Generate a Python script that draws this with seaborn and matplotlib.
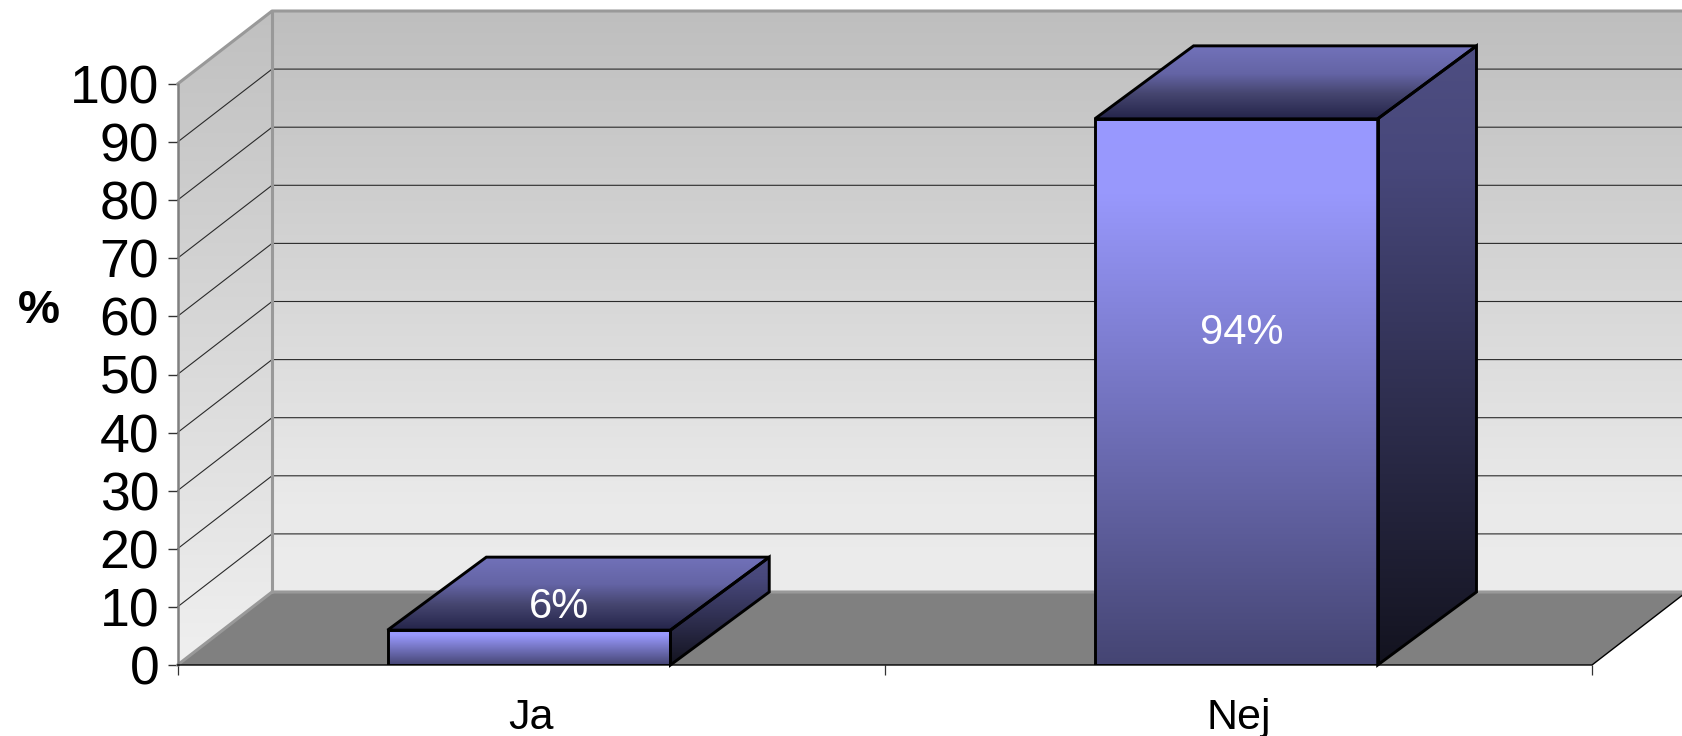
import numpy as np
import seaborn as sns
import matplotlib.pyplot as plt
from matplotlib.colors import LinearSegmentedColormap
from matplotlib.patches import Polygon

categories = ['Ja', 'Nej']
values = [6, 94]
value_labels = ['6%', '94%']
y_ticks = [0, 10, 20, 30, 40, 50, 60, 70, 80, 90, 100]

W, H = 1682, 736
# oblique depth of the fake 3D box, in data units
DX = 94.5 / 707
DY = 73 / 5.81
BAR_DX = DX + 0.006
BAR_SHIFT = -0.003

WALL_STOPS = [(0, '#BEBEBE'), (0.85, '#EAEAEA'), (1, '#ECECEC')]
SIDE_WALL_STOPS = ['#C0C0C0', '#F0F0F0']
FRONT_STOPS = [(0, '#9999FF'), (0.14, '#9898FC'), (1, '#454573')]
TOP_STOPS = [(0, '#7272BA'), (0.38, '#6464A5'), (0.65, '#464670'), (1, '#24244A')]
SIDE_STOPS = [(0, '#4E4E82'), (0.2, '#47477A'), (1, '#13131F')]


def shade_face(ax, verts, stops, zorder):
    cmap = LinearSegmentedColormap.from_list('face', stops)
    xs, ys = zip(*verts)
    im = ax.imshow(np.linspace(0, 1, 256)[:, None], cmap=cmap, aspect='auto', origin='upper',
                   extent=(min(xs), max(xs), min(ys), max(ys)), zorder=zorder)
    im.set_clip_box(ax.figure.bbox)
    im.set_clip_path(Polygon(verts, closed=True, transform=ax.transData))


def outline(ax, verts, zorder, color='black', lw=2.1):
    ax.add_patch(Polygon(verts, closed=True, facecolor='none', edgecolor=color, linewidth=lw,
                         joinstyle='miter', clip_on=False, zorder=zorder))


sns.set_theme(style='white')
plt.rcParams['font.family'] = ['Liberation Sans', 'DejaVu Sans']

fig = plt.figure(figsize=(W / 100, H / 100), dpi=100)
ax = fig.add_axes([177.5 / W, 1 - 665 / H, (1592 - 177.5) / W, (665 - 84) / H])

sns.barplot(x=categories, y=values, width=0.4, color='#9999FF', edgecolor='black', linewidth=2.1, ax=ax)

x0, x1 = -0.5, 1.5
y0, y1 = 0, 100

# walls and floor
shade_face(ax, [(x0 + DX, y0 + DY), (x1 + DX, y0 + DY), (x1 + DX, y1 + DY), (x0 + DX, y1 + DY)], WALL_STOPS, 1)
shade_face(ax, [(x0, y0), (x0 + DX, y0 + DY), (x0 + DX, y1 + DY), (x0, y1)], SIDE_WALL_STOPS, 1)
ax.add_patch(Polygon([(x0, y0), (x1, y0), (x1 + DX, y0 + DY), (x0 + DX, y0 + DY)], closed=True,
                     facecolor='#808080', edgecolor='none', clip_on=False, zorder=1.5))

# gridlines on both walls
for v in y_ticks[1:-1]:
    ax.plot([x0, x0 + DX, x1 + DX], [v, v + DY, v + DY], color='#2A2A2A', lw=0.8, clip_on=False, zorder=2)

# wall borders
ax.plot([x0, x0 + DX, x1 + DX], [y1, y1 + DY, y1 + DY], color='#999999', lw=2.2, clip_on=False, zorder=2.5)
ax.plot([x0 + DX, x0 + DX], [y0 + DY, y1 + DY], color='#999999', lw=2.2, clip_on=False, zorder=2.5)
ax.plot([x0, x0 + DX, x1 + DX], [y0, y0 + DY, y0 + DY], color='#999999', lw=2.2, clip_on=False, zorder=2.5)
ax.plot([x0, x0], [y0, y1], color='#808080', lw=1.8, clip_on=False, zorder=2.5)
ax.plot([x0, x1, x1 + DX], [y0, y0, y0 + DY], color='black', lw=1.0, clip_on=False, zorder=2.6)

# bars: seaborn gives the front face, depth faces are built from it
for i, bar in enumerate(ax.containers[0]):
    bar.set_x(bar.get_x() + BAR_SHIFT)
    bx0, bx1 = bar.get_x(), bar.get_x() + bar.get_width()
    top = bar.get_height()
    z = 3 + i
    bar.set_facecolor('none')
    bar.set_joinstyle('miter')
    bar.set_zorder(z + 0.5)
    front = [(bx0, 0), (bx1, 0), (bx1, top), (bx0, top)]
    lid = [(bx0, top), (bx1, top), (bx1 + BAR_DX, top + DY), (bx0 + BAR_DX, top + DY)]
    side = [(bx1, 0), (bx1 + BAR_DX, DY), (bx1 + BAR_DX, top + DY), (bx1, top)]
    shade_face(ax, front, FRONT_STOPS, z)
    shade_face(ax, lid, TOP_STOPS, z)
    shade_face(ax, side, SIDE_STOPS, z)
    outline(ax, lid, z + 0.4)
    outline(ax, side, z + 0.4)

# value labels sit in pixels relative to the front face
label_offsets = [(30, 41), (5, 59)]
for bar, text, (ox, oy) in zip(ax.containers[0], value_labels, label_offsets):
    ax.annotate(text, xy=(bar.get_x() + bar.get_width() / 2, bar.get_height() / 2), xytext=(ox * 0.72, oy * 0.72),
                textcoords='offset points', ha='center', va='center', color='white', fontsize=30, zorder=9)

ax.set_xlim(x0, x1)
ax.set_ylim(y0, y1)
ax.set_yticks(y_ticks)
ax.set_xticks([0, 1], categories)
ax.set_xticks([-0.5, 0.5, 1.5], minor=True)
ax.tick_params(axis='y', left=True, length=7.2, width=1, color='#333333', labelsize=38.5, pad=6, labelcolor='black')
ax.tick_params(axis='x', which='major', bottom=False, labelsize=31, pad=18, labelcolor='black')
ax.tick_params(axis='x', which='minor', bottom=True, length=7.2, width=0.9, color='#333333')
ax.set_xlabel('')
ax.set_ylabel('')
ax.patch.set_visible(False)
sns.despine(ax=ax, left=True, bottom=True)

fig.text(38.5 / W, 1 - 311 / H, '%', fontsize=34, fontweight='bold', color='black', ha='center', va='center')

fig.savefig('out.png', dpi=100, facecolor='white')
